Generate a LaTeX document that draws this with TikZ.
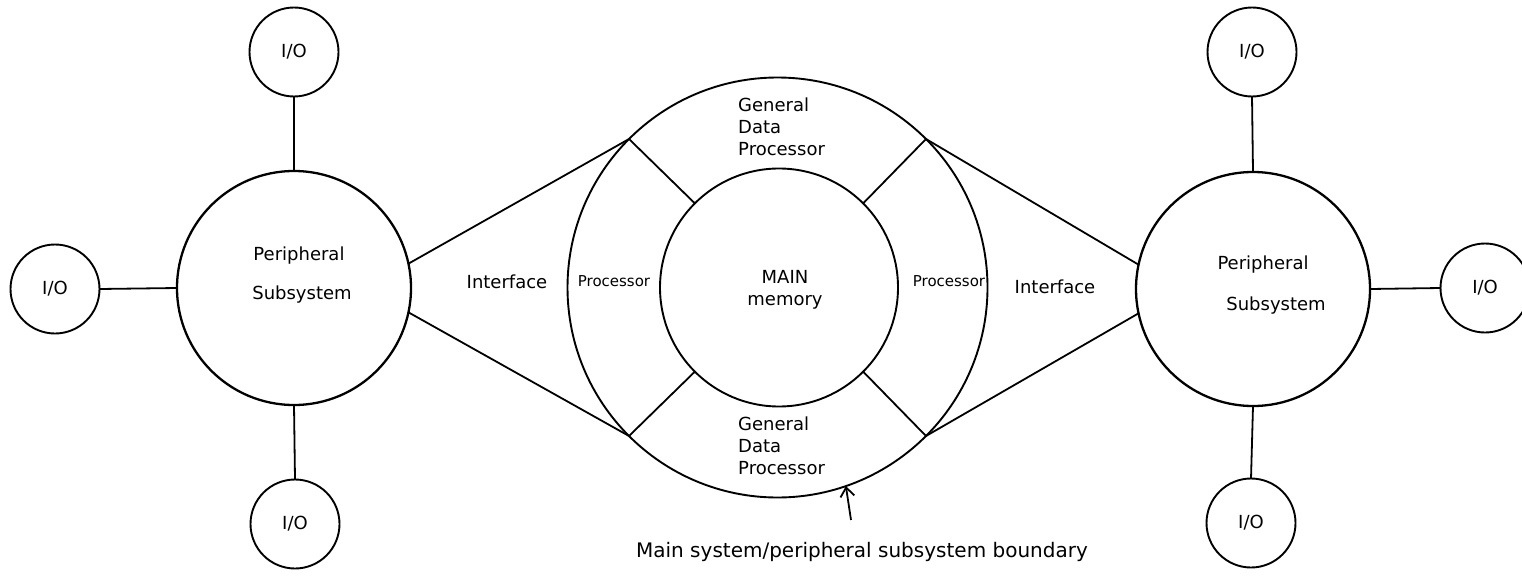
\documentclass[tikz,border=0pt]{standalone}
\usepackage{fontspec}
\setmainfont{DejaVu Sans}
\usetikzlibrary{arrows.meta}
\begin{document}
\begin{tikzpicture}[x=1pt,y=-1pt,
  ring/.style={draw,circle,line width=1.9pt,inner sep=0pt,outer sep=0pt},
  io/.style={ring,minimum size=89pt,font=\fontsize{18}{20}\selectfont},
  per/.style={ring,minimum size=234pt,line width=2.3pt},
  lbl/.style={font=\fontsize{18}{22}\selectfont,inner sep=0pt},
  small/.style={font=\fontsize{15}{18}\selectfont,inner sep=0pt},
  conn/.style={line width=1.8pt}]
\useasboundingbox (0,0) rectangle (1522,578);
% main system
\node[ring,minimum size=420pt] (outer) at (777.5,287.5) {};
\node[ring,minimum size=238pt] (inner) at (779,287.5) {};
% peripheral subsystems
\node[per] (lp) at (294,288) {};
\node[per] (rp) at (1253,289) {};
% I/O
\node[io] (iolt) at (294,52) {I/O};
\node[io] (iol) at (55,289) {I/O};
\node[io] (iolb) at (295,524) {I/O};
\node[io] (iort) at (1252,52) {I/O};
\node[io] (ior) at (1485,288) {I/O};
\node[io] (iorb) at (1251,523) {I/O};
% connectors
\draw[conn] (lp.north) -- (iolt.south);
\draw[conn] (lp.west) -- (iol.east);
\draw[conn] (lp.south) -- (iolb.north);
\draw[conn] (rp.north) -- (iort.south);
\draw[conn] (rp.east) -- (ior.west);
\draw[conn] (rp.south) -- (iorb.north);
\draw[conn] (lp.12) -- (outer.135);
\draw[conn] (lp.-12) -- (outer.-135);
\draw[conn] (rp.168) -- (outer.45);
\draw[conn] (rp.192) -- (outer.-45);
\draw[conn] (outer.135) -- (inner.135);
\draw[conn] (outer.45) -- (inner.45);
\draw[conn] (outer.-135) -- (inner.-135);
\draw[conn] (outer.-45) -- (inner.-45);
% labels
\node[lbl] (lper) at (299,256) {Peripheral};
\node[lbl] (lsub) at (302,295) {Subsystem};
\node[lbl] (rper) at (1263,265) {Peripheral};
\node[lbl] (rsub) at (1276,306) {Subsystem};
\node[lbl] (lif) at (507,282) {Interface};
\node[lbl] (rif) at (1055,287) {Interface};
\node[small] (lproc) at (614,281) {Processor};
\node[small] (rproc) at (949,281) {Processor};
\node[lbl,align=center] (mem) at (785,290) {MAIN\\memory};
\node[lbl,align=left,anchor=north west] (gdpt) at (738,98) {General\\Data\\Processor};
\node[lbl,align=left,anchor=north west] (gdpb) at (738,417) {General\\Data\\Processor};
\node[lbl,font=\fontsize{20}{24}\selectfont] (bnd) at (862,552) {Main system/peripheral subsystem boundary};
\coordinate (atail) at (851,520);
\draw[conn,-{Straight Barb[length=9pt,width=14pt]}] (atail) -- (outer.-71);
\end{tikzpicture}
\end{document}
